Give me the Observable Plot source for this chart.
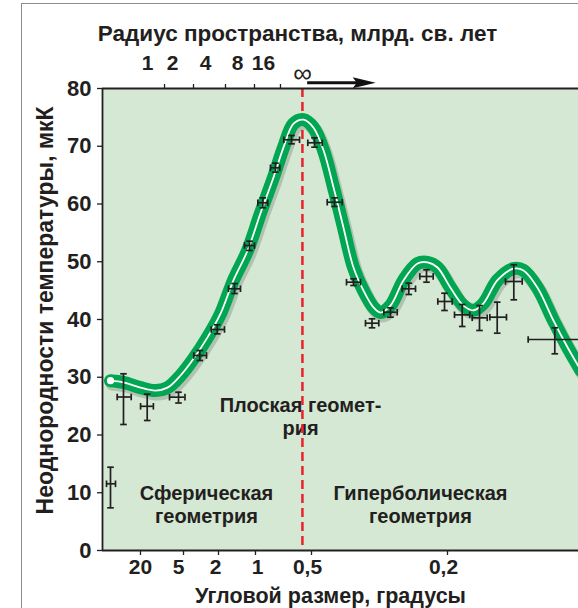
<!DOCTYPE html>
<html><head><meta charset="utf-8">
<script src="https://cdn.jsdelivr.net/npm/d3@7"></script>
<script src="https://cdn.jsdelivr.net/npm/@observablehq/plot@0.6"></script>
<style>
body{margin:0;background:#fff;}
#wrap{position:relative;width:578px;height:608px;overflow:hidden;}
#border{position:absolute;left:21px;top:3px;width:600px;height:640px;border-left:1.5px solid #8c8c8c;border-top:1.5px solid #8c8c8c;pointer-events:none;}
</style></head><body><div id="wrap"></div>
<script>
// ---- texts ----
const xLabel = "Угловой размер, градусы";
const yLabel = "Неоднородности температуры, мкК";
const topLabel = "Радиус пространства, млрд. св. лет";
const annFlat = "Плоская геомет-\nрия";
const annSph = "Сферическая\nгеометрия";
const annHyp = "Гиперболическая\nгеометрия";

// ---- axes (x = position along the horizontal axis, 0–100 axis units) ----
const bottomTickPos = [7.98, 17.02, 24.37, 32.14, 43.91, 72.48];
const bottomLabelPos = [7.98, 15.97, 23.74, 32.56, 43.07, 71.64];
const bottomTickLabels = ["20", "5", "2", "1", "0,5", "0,2"];
const topTickPos = [13.03, 19.12, 25.84, 31.93, 37.39];
const topLabelPos = [9.45, 14.71, 21.64, 28.36, 33.82];
const topTickLabels = ["1", "2", "4", "8", "16"];
const flatPos = 42.0;          // ∞ : flat geometry
const arrowFrom = 43.1, arrowTo = 57.4, arrowLevel = 81.0;
const yTicks = [0, 10, 20, 30, 40, 50, 60, 70, 80];

// ---- model curve ----
const curveX = [1.68, 4.41, 7.98, 11.13, 13.66, 16.39, 19.12, 22.06, 24.79, 27.52, 30.46, 33.19, 35.92, 38.03, 40.13, 42.23, 44.33, 46.43, 48.53, 50.63, 52.73, 54.83, 56.93, 58.40, 60.50, 63.24, 66.18, 68.28, 70.38, 73.11, 75.84, 77.94, 80.04, 82.98, 86.34, 88.45, 91.39, 94.75, 97.69, 100.5];
const curveY = [29.4, 29.1, 28.2, 27.7, 28.2, 30.3, 33.2, 36.9, 41.0, 46.8, 51.9, 58.4, 64.6, 69.8, 73.9, 74.6, 73.2, 69.3, 62.9, 55.9, 49.0, 45.0, 42.1, 41.2, 42.4, 46.8, 49.7, 49.9, 49.0, 45.5, 42.4, 41.6, 42.8, 46.8, 48.8, 48.5, 45.5, 39.8, 35.2, 31.2];

// ---- measurements ----
const ptX   = [1.68, 4.41, 9.39, 15.97, 20.44, 24.10, 27.73, 30.88, 33.68, 36.34, 39.71, 44.54, 48.74, 52.73, 56.62, 60.50, 64.35, 68.07, 71.85, 75.57, 79.20, 82.92, 86.41, 95.02];
const ptXlo = [0.84, 3.09, 8.00, 14.08, 19.18, 22.84, 26.47, 29.83, 32.63, 35.29, 38.09, 43.13, 47.21, 51.26, 55.25, 59.10, 62.96, 66.66, 70.44, 73.95, 77.67, 81.37, 84.66, 89.43];
const ptXhi = [2.73, 6.03, 10.69, 17.33, 21.85, 25.63, 28.99, 31.93, 34.73, 37.25, 41.39, 46.16, 50.36, 54.20, 58.05, 61.91, 65.76, 69.47, 73.47, 77.16, 80.82, 84.87, 88.17, 101.0];
const ptY   = [11.55, 26.58, 24.97, 26.55, 33.77, 38.27, 45.32, 52.81, 60.21, 66.27, 71.12, 70.60, 60.31, 46.46, 39.36, 41.26, 45.32, 47.45, 43.12, 40.81, 40.29, 40.40, 46.58, 36.54];
const ptYlo = [7.39, 21.82, 22.51, 25.54, 32.90, 37.52, 44.50, 51.95, 59.34, 65.51, 70.42, 69.84, 59.57, 45.89, 38.56, 40.40, 44.33, 46.46, 41.56, 38.79, 38.10, 37.63, 43.41, 34.06];
const ptYhi = [14.42, 30.60, 27.07, 27.41, 34.63, 39.08, 46.23, 53.56, 61.07, 67.07, 71.86, 71.46, 61.07, 47.05, 40.12, 42.02, 46.29, 48.61, 44.55, 42.60, 42.42, 43.00, 49.47, 38.56];

const curve = curveX.map((x, i) => ({x, y: curveY[i]}));
const pts = ptX.map((x, i) => ({x, xlo: ptXlo[i], xhi: ptXhi[i], y: ptY[i], ylo: ptYlo[i], yhi: ptYhi[i]}));

const ink = "#231f20";
const hcap = {draw(ctx, size) { const r = Math.sqrt(size / Math.PI); ctx.moveTo(-r, 0); ctx.lineTo(r, 0); }};
const vcap = {draw(ctx, size) { const r = Math.sqrt(size / Math.PI); ctx.moveTo(0, -r); ctx.lineTo(0, r); }};
const head = {draw(ctx) { ctx.moveTo(0, 0); ctx.lineTo(-23, -5.5); ctx.lineTo(-19, 0); ctx.lineTo(-23, 5.5); ctx.closePath(); }};

const txt = {fill: ink, fontWeight: "bold", lineAnchor: "middle"};

const chart = Plot.plot({
  width: 578, height: 608,
  marginTop: 88, marginRight: 0, marginBottom: 58, marginLeft: 102,
  style: {fontFamily: "'Liberation Sans', Arial, Helvetica, sans-serif", fontWeight: "bold", color: ink, background: "transparent"},
  x: {domain: [0, 100], axis: null},
  y: {domain: [0, 80], axis: null},
  marks: [
    Plot.frame({fill: "#d4e8d4", stroke: null}),
    // axes
    Plot.axisY({ticks: yTicks, tickSize: 5, tickPadding: 6, fontSize: 22, fontWeight: "bold", label: null, stroke: ink, strokeWidth: 1.3, fill: ink}),
    Plot.axisX({anchor: "bottom", ticks: bottomTickPos, tickSize: 5, tickFormat: () => "", label: null, stroke: ink, strokeWidth: 1.3}),
    Plot.text(bottomTickLabels, {x: bottomLabelPos, frameAnchor: "bottom", dy: 17, fontSize: 21, ...txt}),
    Plot.axisX({anchor: "top", ticks: topTickPos, tickSize: 5, tickFormat: () => "", label: null, stroke: ink, strokeWidth: 1.3}),
    Plot.text(topTickLabels, {x: topLabelPos, frameAnchor: "top", dy: -25, fontSize: 21, ...txt}),
    Plot.text(["∞"], {x: [flatPos], frameAnchor: "top", dy: -15, fontSize: 26, fill: ink, fontWeight: "normal", lineAnchor: "middle"}),
    // arrow
    Plot.ruleY([arrowLevel], {x1: arrowFrom, x2: arrowTo - 3, stroke: "#111", strokeWidth: 3}),
    Plot.dot([arrowLevel], {x: arrowTo, y: d => d, symbol: head, fill: "#111", stroke: null, r: 5}),
    // axis titles
    Plot.text([topLabel], {frameAnchor: "top", dy: -55, dx: -43, fontSize: 22.5, ...txt}),
    Plot.text([xLabel], {frameAnchor: "bottom", dy: 46, dx: -10, fontSize: 21.5, ...txt}),
    Plot.text([yLabel], {frameAnchor: "left", dx: -57, dy: -9, rotate: -90, textAnchor: "middle", fontSize: 23, ...txt}),
    // annotations
    Plot.text([annFlat], {x: 41.6, y: 23.29, fontSize: 20, lineHeight: 1.15, ...txt}),
    Plot.text([annSph], {x: 21.85, y: 8.05, fontSize: 20, lineHeight: 1.15, ...txt}),
    Plot.text([annHyp], {x: 66.81, y: 8.05, fontSize: 20, lineHeight: 1.15, ...txt}),
    // flat-geometry marker
    Plot.ruleX([flatPos], {stroke: "#e8232c", strokeWidth: 2.5, strokeDasharray: "9,5"}),
    // model curve
    Plot.line(curve, {x: "x", y: "y", curve: "catmull-rom", stroke: "#000", strokeOpacity: 0.16, strokeWidth: 14, dx: 2, dy: 3, strokeLinecap: "round"}),
    Plot.line(curve, {x: "x", y: "y", curve: "catmull-rom", stroke: "#00a651", strokeWidth: 13, strokeLinecap: "round"}),
    Plot.line(curve, {x: "x", y: "y", curve: "catmull-rom", stroke: "#fff", strokeWidth: 1.8}),
    Plot.dot(curve.slice(0, 1), {x: "x", y: "y", r: 3.6, fill: "#fff", stroke: null}),
    // measurements
    Plot.ruleX(pts, {x: "x", y1: "ylo", y2: "yhi", stroke: ink, strokeWidth: 1.7}),
    Plot.ruleY(pts, {y: "y", x1: "xlo", x2: "xhi", stroke: ink, strokeWidth: 1.7}),
    Plot.dot(pts, {x: "x", y: "ylo", symbol: hcap, r: 3.3, stroke: ink, strokeWidth: 1.7, fill: null}),
    Plot.dot(pts, {x: "x", y: "yhi", symbol: hcap, r: 3.3, stroke: ink, strokeWidth: 1.7, fill: null}),
    Plot.dot(pts, {x: "xlo", y: "y", symbol: vcap, r: 3.3, stroke: ink, strokeWidth: 1.7, fill: null}),
    Plot.dot(pts, {x: "xhi", y: "y", symbol: vcap, r: 3.3, stroke: ink, strokeWidth: 1.7, fill: null}),
    // frame lines
    Plot.ruleX([0], {stroke: ink, strokeWidth: 1.8}),
    Plot.ruleY([0], {stroke: ink, strokeWidth: 1.8}),
    Plot.ruleY([80], {stroke: ink, strokeWidth: 1.8})
  ]
});
const wrap = document.getElementById("wrap");
wrap.appendChild(chart);
const b = document.createElement("div"); b.id = "border"; wrap.appendChild(b);
</script></body></html>
